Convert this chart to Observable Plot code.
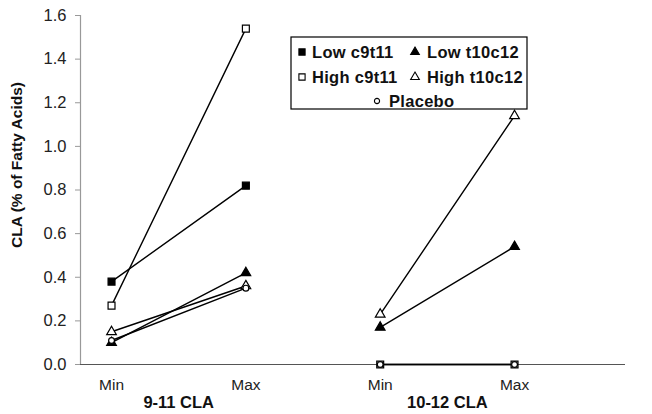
<!DOCTYPE html>
<html><head><meta charset="utf-8">
<script src="https://cdn.jsdelivr.net/npm/d3@7"></script>
<script src="https://cdn.jsdelivr.net/npm/@observablehq/plot@0.6"></script>
<style>
body{margin:0;background:#fff}
svg{font-family:"Liberation Sans",Arial,Helvetica,sans-serif}
</style>
</head><body><div id="chart"></div>
<script>
// ---- data ----
const groups = ["9-11 CLA", "10-12 CLA"];
const categories = ["Min", "Max"];
const seriesNames = ["Low c9t11", "High c9t11", "Low t10c12", "High t10c12", "Placebo"];
// values per group: [Min, Max]; null = not shown
const lowC9t11   = [[0.38, 0.82], null];
const highC9t11  = [[0.27, 1.54], [0.00, 0.00]];
const lowT10c12  = [[0.10, 0.42], [0.17, 0.54]];
const highT10c12 = [[0.15, 0.36], [0.23, 1.14]];
const placebo    = [[0.11, 0.35], [0.00, 0.00]];
const yTicks = [0, 0.2, 0.4, 0.6, 0.8, 1.0, 1.2, 1.4, 1.6];
const yLabel = "CLA (% of Fatty Acids)";

// ---- styles ----
const seriesValues = [lowC9t11, highC9t11, lowT10c12, highT10c12, placebo];
const styleOf = {
  "Low c9t11":   {symbol: "square",   fill: "black", r: 3.9},
  "High c9t11":  {symbol: "square",   fill: "white", r: 3.9},
  "Low t10c12":  {symbol: "triangle", fill: "black", r: 3.6},
  "High t10c12": {symbol: "triangle", fill: "white", r: 3.6},
  "Placebo":     {symbol: "circle",   fill: "white", r: 2.9}
};
const d3Sym = {square: d3.symbolSquare, triangle: d3.symbolTriangle, circle: d3.symbolCircle};

// ---- build table ----
const rows = [];
seriesNames.forEach((s, si) => {
  seriesValues[si].forEach((pair, gi) => {
    if (!pair) return;
    pair.forEach((v, ci) => rows.push({
      series: s, group: groups[gi], cat: categories[ci],
      key: s + "|" + groups[gi], x: gi * 2 + ci + 1, y: v
    }));
  });
});

const xDomain = [0.769, 4.826];

const plot = Plot.plot({
  width: 652, height: 414,
  marginLeft: 80, marginRight: 27, marginTop: 15, marginBottom: 50,
  style: {fontFamily: '"Liberation Sans", Arial, sans-serif', fontSize: "15px", color: "#222", background: "#fff"},
  x: {type: "linear", domain: xDomain},
  y: {domain: [0, 1.6]},
  marks: [
    Plot.ruleX([xDomain[0]], {stroke: "#999", strokeWidth: 1.2}),
    Plot.ruleY([0], {stroke: "#555", strokeWidth: 1.2}),
    Plot.axisY({ticks: yTicks, tickFormat: d3.format(".1f"), tickSize: 5, tickPadding: 9,
      stroke: "#999", fontSize: 16.5, label: null, fill: "#222", style: {letterSpacing: "1px"}}),
    Plot.axisX({ticks: [1, 2, 3, 4], tickFormat: t => categories[(t - 1) % 2],
      tickSize: 0, tickPadding: 14, label: null, fontSize: 15.5, fill: "#222"}),
    Plot.text(groups, {x: (d, i) => i * 2 + 1.5, frameAnchor: "bottom", dy: 43,
      fontWeight: "bold", fontSize: 16.5, fill: "#111"}),
    Plot.text([yLabel], {frameAnchor: "left", textAnchor: "middle", rotate: -90, dx: -63, dy: -25,
      fontWeight: "bold", fontSize: 15.5, fill: "#111", style: {letterSpacing: "-0.6px"}}),
    Plot.line(rows, {x: "x", y: "y", z: "key", stroke: "black", strokeWidth: 1.4}),
    ...seriesNames.map(s => Plot.dot(rows.filter(d => d.series === s), {
      x: "x", y: "y", symbol: styleOf[s].symbol, r: styleOf[s].r,
      fill: styleOf[s].fill, stroke: "black", strokeWidth: 1.2
    }))
  ]
});

document.getElementById("chart").appendChild(plot);

// ---- legend inside the plot ----
const svg = d3.select(plot);
const lg = svg.append("g")
  .style("font-family", '"Liberation Sans", Arial, sans-serif')
  .style("font-weight", "bold").style("font-size", "16.5px");
lg.append("rect").attr("x", 291).attr("y", 37).attr("width", 236).attr("height", 72)
  .attr("fill", "white").attr("stroke", "black").attr("stroke-width", 1.2);
const pos = [
  {mx: 302, tx: 312, y: 52}, {mx: 302, tx: 312, y: 77},
  {mx: 415, tx: 427, y: 52}, {mx: 415, tx: 427, y: 77},
  {mx: 377, tx: 389, y: 101}
];
seriesNames.forEach((s, i) => {
  const st = styleOf[s], p = pos[i];
  lg.append("path")
    .attr("d", d3.symbol().type(d3Sym[st.symbol]).size(Math.PI * st.r * st.r * 0.8)())
    .attr("transform", `translate(${p.mx},${p.y})`)
    .attr("fill", st.fill).attr("stroke", "black").attr("stroke-width", 1.1);
  lg.append("text").attr("x", p.tx).attr("y", p.y).attr("dy", "0.36em")
    .style("text-anchor", "start").style("letter-spacing", "0.3px")
    .attr("fill", "#111").text(s);
});
</script>
</body></html>
